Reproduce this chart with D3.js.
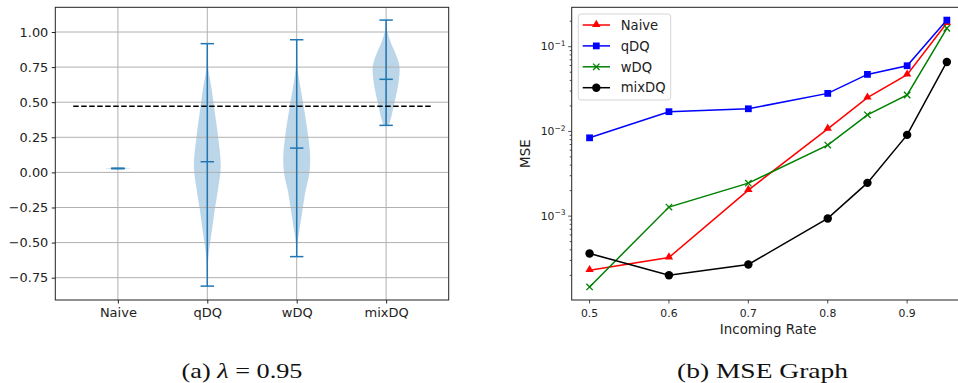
<!DOCTYPE html>
<html>
<head>
<meta charset="utf-8">
<script src="https://cdn.jsdelivr.net/npm/d3@7"></script>
<style>
  html, body { margin: 0; padding: 0; background: #fff; }
  svg { display: block; }
  text { font-family: "DejaVu Sans", sans-serif; fill: #222; }
  .cap { font-family: "Liberation Serif", "DejaVu Serif", serif; fill: #111; }
</style>
</head>
<body>
<svg id="chart" width="958" height="383"></svg>
<script>
// ---------------- Data: left panel (violins) ----------------
const categories = ["Naive", "qDQ", "wDQ", "mixDQ"];
const violinMin = [0.028, -0.81, -0.60, 0.335];
const violinMax = [0.028, 0.917, 0.945, 1.085];
const violinMedian = [0.028, 0.076, 0.173, 0.663];
// density profiles: [value, relative density]
const naiveProfile = [[0.0225, 0], [0.028, 1], [0.0335, 0]];
const qdqProfile = [[-0.81, 0], [-0.70, 0.02], [-0.60, 0.08], [-0.51, 0.2], [-0.39, 0.38], [-0.27, 0.55],
  [-0.15, 0.75], [0.04, 1], [0.25, 0.81], [0.47, 0.5], [0.61, 0.3], [0.73, 0.08], [0.82, 0.02], [0.917, 0]];
const wdqProfile = [[-0.60, 0], [-0.51, 0.05], [-0.41, 0.2], [-0.29, 0.4], [-0.15, 0.62], [0.0, 0.95],
  [0.12, 1], [0.25, 0.87], [0.47, 0.52], [0.62, 0.25], [0.75, 0.06], [0.945, 0]];
const mixdqProfile = [[0.335, 0.2], [0.35, 0.25], [0.40, 0.4], [0.467, 0.55], [0.563, 0.78], [0.657, 0.95],
  [0.752, 1], [0.823, 0.8], [0.92, 0.37], [1.0, 0.1], [1.04, 0.04], [1.085, 0]];
const violinProfiles = [naiveProfile, qdqProfile, wdqProfile, mixdqProfile];
const referenceLine = 0.472;
const leftYTicks = [-0.75, -0.5, -0.25, 0, 0.25, 0.5, 0.75, 1.0];

// ---------------- Data: right panel (MSE) ----------------
const rates = [0.5, 0.6, 0.7, 0.8, 0.85, 0.9, 0.95];
const mseNaive = [2.3e-4, 3.25e-4, 2.03e-3, 1.07e-2, 0.025, 0.0467, 0.19];
const mseQDQ = [8.4e-3, 0.0171, 0.0185, 0.0281, 0.0471, 0.0596, 0.206];
const mseWDQ = [1.46e-4, 1.28e-3, 2.45e-3, 6.9e-3, 0.0157, 0.0269, 0.165];
const mseMixDQ = [3.63e-4, 2.0e-4, 2.69e-4, 9.4e-4, 2.47e-3, 9.1e-3, 0.066];
const seriesNames = ["Naive", "qDQ", "wDQ", "mixDQ"];
const seriesColors = ["#ff0000", "#0000ff", "#008000", "#000000"];
const rightXTicks = [0.5, 0.6, 0.7, 0.8, 0.9];
const rightYTicks = [1e-3, 1e-2, 1e-1];
const rightYExp = ["\u22123", "\u22122", "\u22121"];

const svg = d3.select("#chart");

// =============== LEFT PANEL ===============
const L = {x0: 55.3, x1: 448.7, y0: 7.3, y1: 300};
const xL = d3.scaleLinear().domain([0.3, 4.7]).range([L.x0, L.x1]);
const yL = d3.scaleLinear().domain([-0.909, 1.176]).range([L.y1, L.y0]);
const gL = svg.append("g");
const vWidth = 0.3;
const blue = "#1f77b4";

// violin bodies
const area = d3.area()
  .curve(d3.curveCatmullRom)
  .y(d => yL(d.v));
violinProfiles.forEach((prof, i) => {
  const pos = i + 1;
  const pts = prof.map(p => ({v: p[0], w: p[1] * vWidth / 2}));
  gL.append("path")
    .attr("d", area.x0(d => xL(pos - d.w)).x1(d => xL(pos + d.w))(pts))
    .attr("fill", blue).attr("fill-opacity", 0.3).attr("stroke", "none");
});

// grid
const gridL = gL.append("g").attr("stroke", "#b0b0b0").attr("stroke-width", 1);
leftYTicks.forEach(t => gridL.append("line").attr("x1", L.x0).attr("x2", L.x1)
  .attr("y1", yL(t)).attr("y2", yL(t)));
categories.forEach((c, i) => gridL.append("line").attr("x1", xL(i + 1)).attr("x2", xL(i + 1))
  .attr("y1", L.y0).attr("y2", L.y1));

// violin lines
categories.forEach((c, i) => {
  const pos = i + 1;
  const g = gL.append("g").attr("stroke", blue).attr("stroke-width", 1.5);
  g.append("line").attr("x1", xL(pos)).attr("x2", xL(pos)).attr("y1", yL(violinMin[i])).attr("y2", yL(violinMax[i]));
  [violinMin[i], violinMax[i], violinMedian[i]].forEach(v => {
    g.append("line").attr("x1", xL(pos - vWidth / 4)).attr("x2", xL(pos + vWidth / 4))
      .attr("y1", yL(v)).attr("y2", yL(v));
  });
});

// reference dashed line
gL.append("line").attr("x1", xL(0.5)).attr("x2", xL(4.5))
  .attr("y1", yL(referenceLine)).attr("y2", yL(referenceLine))
  .attr("stroke", "#000").attr("stroke-width", 1.5).attr("stroke-dasharray", "5.5,2.5");

// axes
const axLeft = d3.axisLeft(yL).tickValues(leftYTicks).tickSize(3.5).tickPadding(3.5)
  .tickFormat(d => d3.format(".2f")(d).replace("-", "\u2212"));
gL.append("g").attr("transform", `translate(${L.x0},0)`).call(axLeft)
  .call(g => g.select(".domain").remove())
  .call(g => g.selectAll("text").style("font-size", "12.9px").attr("fill", "#222"))
  .call(g => g.selectAll("line").attr("stroke", "#222"));
const axBottom = d3.axisBottom(xL).tickValues([1, 2, 3, 4]).tickSize(3.5).tickPadding(4)
  .tickFormat((d, i) => categories[i]);
gL.append("g").attr("transform", `translate(0,${L.y1})`).call(axBottom)
  .call(g => g.select(".domain").remove())
  .call(g => g.selectAll("text").style("font-size", "13px").attr("fill", "#222"))
  .call(g => g.selectAll("line").attr("stroke", "#222"));
gL.append("rect").attr("x", L.x0).attr("y", L.y0).attr("width", L.x1 - L.x0).attr("height", L.y1 - L.y0)
  .attr("fill", "none").attr("stroke", "#222").attr("stroke-width", 1);

// =============== RIGHT PANEL ===============
const R = {x0: 571.7, x1: 964.7, y0: 7.3, y1: 300};
const xR = d3.scaleLinear().domain([0.4775, 0.9725]).range([R.x0, R.x1]);
const yR = d3.scaleLog().domain([Math.pow(10, -3.99), Math.pow(10, -0.535)]).range([R.y1, R.y0]);
const gR = svg.append("g");
const allSeries = [mseNaive, mseQDQ, mseWDQ, mseMixDQ];

const line = d3.line().x((d, i) => xR(rates[i])).y(d => yR(d));
const sym = {
  tri: d3.symbol().type(d3.symbolTriangle).size(30),
  sq: d3.symbol().type(d3.symbolSquare).size(46),
  circ: d3.symbol().type(d3.symbolCircle).size(56)
};
function drawMarker(g, kind, x, y, color) {
  if (kind === 0) {
    g.append("path").attr("d", sym.tri()).attr("transform", `translate(${x},${y - 0.5})`).attr("fill", color);
  } else if (kind === 1) {
    g.append("path").attr("d", sym.sq()).attr("transform", `translate(${x},${y})`).attr("fill", color);
  } else if (kind === 2) {
    const s = 3.2;
    g.append("path").attr("d", `M${x - s},${y - s}L${x + s},${y + s}M${x - s},${y + s}L${x + s},${y - s}`)
      .attr("stroke", color).attr("stroke-width", 1.3).attr("fill", "none");
  } else {
    g.append("path").attr("d", sym.circ()).attr("transform", `translate(${x},${y})`).attr("fill", color);
  }
}
allSeries.forEach((vals, k) => {
  const g = gR.append("g");
  g.append("path").attr("d", line(vals)).attr("fill", "none")
    .attr("stroke", seriesColors[k]).attr("stroke-width", 1.5);
  vals.forEach((v, i) => drawMarker(g, k, xR(rates[i]), yR(v), seriesColors[k]));
});

// axes right
const minorTicks = [];
[-4, -3, -2, -1].forEach(e => { for (let m = 2; m <= 9; m++) { const v = m * Math.pow(10, e); if (v > yR.domain()[0] && v < yR.domain()[1]) minorTicks.push(v); } });
const tg = gR.append("g").attr("stroke", "#222").attr("stroke-width", 0.8);
minorTicks.forEach(v => tg.append("line").attr("x1", R.x0 - 2).attr("x2", R.x0).attr("y1", yR(v)).attr("y2", yR(v)));
rightYTicks.forEach((v, i) => {
  tg.append("line").attr("x1", R.x0 - 3.5).attr("x2", R.x0).attr("y1", yR(v)).attr("y2", yR(v));
  const t = gR.append("text").attr("x", R.x0 - 6).attr("y", yR(v) + 3.8).attr("text-anchor", "end")
    .style("font-size", "10.8px");
  t.append("tspan").text("10");
  t.append("tspan").attr("dy", -4.5).style("font-size", "7.6px").text(rightYExp[i]);
});
rightXTicks.forEach(v => {
  tg.append("line").attr("x1", xR(v)).attr("x2", xR(v)).attr("y1", R.y1).attr("y2", R.y1 + 3.5);
  gR.append("text").attr("x", xR(v)).attr("y", R.y1 + 16.5).attr("text-anchor", "middle")
    .style("font-size", "10.8px").text(d3.format(".1f")(v));
});
gR.append("rect").attr("x", R.x0).attr("y", R.y0).attr("width", R.x1 - R.x0).attr("height", R.y1 - R.y0)
  .attr("fill", "none").attr("stroke", "#222").attr("stroke-width", 1);
gR.append("text").attr("x", (R.x0 + R.x1) / 2).attr("y", 334).attr("text-anchor", "middle")
  .style("font-size", "13.4px").text("Incoming Rate");
gR.append("text").attr("transform", `translate(530,${(R.y0 + R.y1) / 2}) rotate(-90)`)
  .attr("text-anchor", "middle").style("font-size", "13.4px").text("MSE");

// legend
const lg = gR.append("g");
lg.append("rect").attr("x", 578.3).attr("y", 14).attr("width", 92.4).attr("height", 86).attr("rx", 3)
  .attr("fill", "#fff").attr("fill-opacity", 0.85).attr("stroke", "#d5d5d5").attr("stroke-width", 1);
seriesNames.forEach((n, k) => {
  const y = 25 + k * 20.9;
  lg.append("line").attr("x1", 582.7).attr("x2", 610).attr("y1", y).attr("y2", y)
    .attr("stroke", seriesColors[k]).attr("stroke-width", 1.5);
  drawMarker(lg, k, 596.3, y, seriesColors[k]);
  lg.append("text").attr("x", 620.7).attr("y", y + 4.7).style("font-size", "13.2px").text(n);
});

// captions
const c1 = svg.append("text").attr("class", "cap").attr("x", 242).attr("y", 378)
  .attr("text-anchor", "middle").style("font-size", "21px")
  .attr("textLength", 121).attr("lengthAdjust", "spacingAndGlyphs");
c1.append("tspan").text("(a) ");
c1.append("tspan").style("font-style", "italic").text("\u03bb");
c1.append("tspan").text(" = 0.95");
svg.append("text").attr("class", "cap").attr("x", 762.5).attr("y", 378)
  .attr("text-anchor", "middle").style("font-size", "21px")
  .attr("textLength", 171).attr("lengthAdjust", "spacingAndGlyphs").text("(b) MSE Graph");
</script>
</body>
</html>
